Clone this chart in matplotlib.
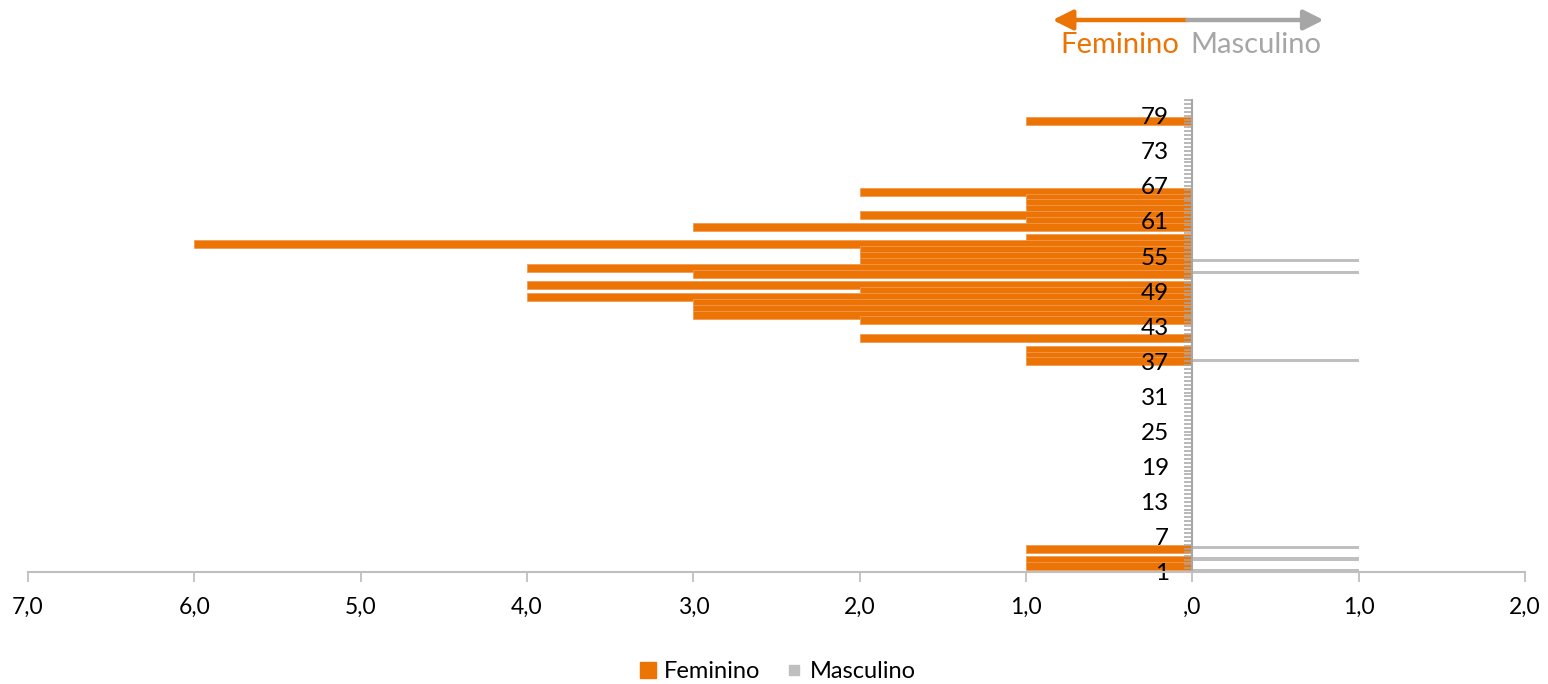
import matplotlib
matplotlib.use("Agg")
import matplotlib.pyplot as plt
import matplotlib.transforms as mtransforms
from matplotlib.lines import Line2D
from matplotlib.ticker import FixedLocator
import numpy as np

# ---------------- data ----------------
ages = list(range(1, 82))
feminino = [0, 1, 1, 0, 1, 0, 0, 0, 0, 0,      # 1-10
            0, 0, 0, 0, 0, 0, 0, 0, 0, 0,      # 11-20
            0, 0, 0, 0, 0, 0, 0, 0, 0, 0,      # 21-30
            0, 0, 0, 0, 0, 0, 1, 1, 1, 0,      # 31-40
            2, 0, 0, 2, 3, 3, 3, 4, 2, 4,      # 41-50
            0, 3, 4, 2, 2, 2, 6, 1, 0, 3,      # 51-60
            1, 2, 1, 1, 1, 2, 0, 0, 0, 0,      # 61-70
            0, 0, 0, 0, 0, 0, 0, 1, 0, 0,      # 71-80
            0]                                 # 81
masculino = [1, 0, 1, 0, 1, 0, 0, 0, 0, 0,
             0, 0, 0, 0, 0, 0, 0, 0, 0, 0,
             0, 0, 0, 0, 0, 0, 0, 0, 0, 0,
             0, 0, 0, 0, 0, 0, 1, 0, 0, 0,
             0, 0, 0, 0, 0, 0, 0, 0, 0, 0,
             0, 1, 0, 1, 0, 0, 0, 0, 0, 0,
             0, 0, 0, 0, 0, 0, 0, 0, 0, 0,
             0, 0, 0, 0, 0, 0, 0, 0, 0, 0,
             0]
age_labels = ["1", "7", "13", "19", "25", "31", "37", "43", "49", "55", "61", "67", "73", "79"]
x_ticks = [-7, -6, -5, -4, -3, -2, -1, 0, 1, 2]
x_labels = ["7,0", "6,0", "5,0", "4,0", "3,0", "2,0", "1,0", ",0", "1,0", "2,0"]
series_names = ["Feminino", "Masculino"]

# ---------------- style ----------------
ORANGE = "#EC7405"
ORANGE_EDGE = "#F29A55"
GRAY = "#BFBFBF"
GRAY_DARK = "#A6A6A6"
FONT = ["Lato", "DejaVu Sans"]
plt.rcParams["font.family"] = FONT

fig = plt.figure(figsize=(15.48, 6.84), dpi=100)
ax = fig.add_axes([28 / 1548, (684 - 572) / 684, 1497 / 1548, 472 / 684])

# feminino (negative side); draw high ages first so lower ages sit on top
f_pairs = [(a, v) for a, v in zip(ages, feminino) if v > 0][::-1]
ax.barh([a for a, _ in f_pairs], [-v for _, v in f_pairs], height=1.37,
        color=ORANGE, edgecolor=ORANGE_EDGE, linewidth=0.6, zorder=1)

m_pairs = [(a, v) for a, v in zip(ages, masculino) if v > 0]
ax.barh([a + 0.2 for a, _ in m_pairs], [v for _, v in m_pairs], height=0.57,
        color=GRAY, linewidth=0, zorder=1)

ax.set_xlim(-7, 2)
ax.set_ylim(1, 81.67)

# spines
for s in ["top", "right"]:
    ax.spines[s].set_visible(False)
ax.spines["left"].set_position(("data", 0))
ax.spines["left"].set_color(GRAY_DARK)
ax.spines["left"].set_linewidth(1.5)
ax.spines["bottom"].set_color(GRAY)
ax.spines["bottom"].set_linewidth(1.5)

# y axis ticks / labels
label_pos = [int(s) for s in age_labels]
ax.set_yticks(label_pos)
ax.set_yticklabels(age_labels)
ax.yaxis.set_minor_locator(FixedLocator(list(np.arange(1, 81.7, 2 / 3))))
ax.tick_params(axis="y", which="both", direction="out", length=6, width=1.1,
               color=GRAY_DARK, pad=11, labelsize=17.5, labelcolor="black")

# x axis
ax.set_xticks(x_ticks)
ax.set_xticklabels(x_labels)
ax.tick_params(axis="x", direction="out", length=7, width=1.3, color=GRAY,
               pad=11, labelsize=16.5, labelcolor="black")

# header arrows and labels
trans = mtransforms.blended_transform_factory(ax.transData, ax.transAxes)
ax.annotate("", xy=(-0.84, 1.1695), xytext=(-0.03, 1.1695), xycoords=trans,
            textcoords=trans, annotation_clip=False,
            arrowprops=dict(arrowstyle="-|>", lw=3.2, color=ORANGE,
                            mutation_scale=30, shrinkA=0, shrinkB=0))
ax.annotate("", xy=(0.79, 1.1695), xytext=(-0.03, 1.1695), xycoords=trans,
            textcoords=trans, annotation_clip=False,
            arrowprops=dict(arrowstyle="-|>", lw=3.2, color=GRAY_DARK,
                            mutation_scale=30, shrinkA=0, shrinkB=0))
ax.text(-0.08, 1.0996, series_names[0], transform=trans, ha="right", va="baseline",
        fontsize=21, color=ORANGE)
ax.text(-0.012, 1.0996, series_names[1], transform=trans, ha="left", va="baseline",
        fontsize=21, color=GRAY_DARK)

# legend
handles = [Line2D([], [], marker="s", ls="none", markersize=11.5, color=ORANGE),
           Line2D([], [], marker="s", ls="none", markersize=7.5, color=GRAY)]
fig.legend(handles, series_names, loc="center", bbox_to_anchor=(776 / 1548, 1 - 672 / 684),
           ncol=2, frameon=False, fontsize=17, handletextpad=0.2, columnspacing=0.9,
           handlelength=1.0)

fig.savefig("out.png", dpi=100)
